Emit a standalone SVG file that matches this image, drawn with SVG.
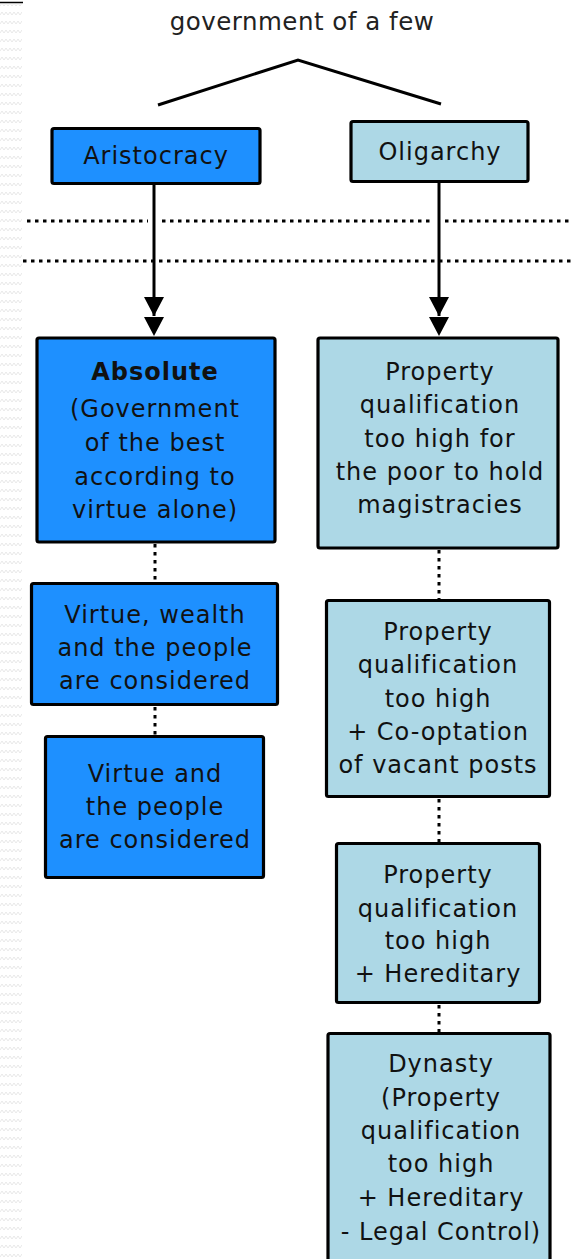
<svg xmlns="http://www.w3.org/2000/svg" width="572" height="1259" viewBox="0 0 572 1259">
<style>
text{font-family:"DejaVu Sans","Liberation Sans",sans-serif;font-size:24px;fill:#111;text-anchor:middle;letter-spacing:1px}
.title{font-size:24.5px;fill:#222;letter-spacing:0.5px}
.box{stroke:#000;stroke-width:3.2}
.ar{fill:#1e90ff}
.ol{fill:#add8e6}
.line{stroke:#000;stroke-width:3;fill:none}
.dot{stroke:#000;stroke-width:3;stroke-dasharray:3.5 4.5;fill:none}
</style>
<defs>
<pattern id="zz" width="8" height="9" patternUnits="userSpaceOnUse">
<polyline points="0,6 2,3 4,6 6,3 8,6" fill="none" stroke="#e8e8e8" stroke-width="1"/>
</pattern>
</defs>
<rect x="0" y="0" width="572" height="1259" fill="#fff"/>
<rect x="0" y="4" width="22" height="1255" fill="url(#zz)"/>
<line x1="0" y1="2.5" x2="23" y2="2.5" stroke="#000" stroke-width="1.5"/>
<g id="title"><text class="title" x="302" y="30">government of a few</text></g>
<g id="connectors">
<polyline class="line" stroke-width="2.5" points="158,105 298,60 441,104"/>
<line class="dot" x1="27" y1="221" x2="148" y2="221"/>
<line class="dot" x1="162" y1="221" x2="434" y2="221"/>
<line class="dot" x1="445" y1="221" x2="572" y2="221"/>
<line class="dot" x1="23" y1="261" x2="572" y2="261"/>
<line class="line" x1="154" y1="185" x2="154" y2="316"/>
<path d="M144,297 L164,297 L154,316 Z M144,317 L164,317 L154,336 Z" fill="#000"/>
<line class="line" x1="439" y1="182" x2="439" y2="316"/>
<path d="M429,297 L449,297 L439,316 Z M429,317 L449,317 L439,336 Z" fill="#000"/>
<line class="dot" x1="155" y1="544" x2="155" y2="582"/>
<line class="dot" x1="155" y1="707" x2="155" y2="735"/>
<line class="dot" x1="439" y1="550" x2="439" y2="599"/>
<line class="dot" x1="439" y1="799" x2="439" y2="842"/>
<line class="dot" x1="439" y1="1005" x2="439" y2="1032"/>
</g>
<g id="aristocracy">
<rect class="box ar" x="52" y="128.5" width="208" height="55" rx="2"/>
<text x="156" y="164">Aristocracy</text>
</g>
<g id="oligarchy">
<rect class="box ol" x="351" y="121.5" width="177" height="60" rx="2"/>
<text x="440" y="160">Oligarchy</text>
</g>
<g id="absolute">
<rect class="box ar" x="37" y="338" width="238" height="204" rx="2"/>
<text x="155" y="380" font-weight="bold">Absolute</text>
<text x="155" y="417">(Government</text>
<text x="155" y="451">of the best</text>
<text x="155" y="485">according to</text>
<text x="155" y="518">virtue alone)</text>
</g>
<g id="virtue-wealth">
<rect class="box ar" x="31.5" y="583.5" width="246" height="121" rx="2"/>
<text x="155" y="623">Virtue, wealth</text>
<text x="155" y="656">and the people</text>
<text x="155" y="689">are considered</text>
</g>
<g id="virtue-people">
<rect class="box ar" x="45.5" y="736.5" width="218" height="141" rx="2"/>
<text x="155" y="782">Virtue and</text>
<text x="155" y="815">the people</text>
<text x="155" y="848">are considered</text>
</g>
<g id="property1">
<rect class="box ol" x="318" y="338" width="240" height="210" rx="2"/>
<text x="440" y="380">Property</text>
<text x="440" y="413">qualification</text>
<text x="440" y="447">too high for</text>
<text x="440" y="480">the poor to hold</text>
<text x="440" y="513">magistracies</text>
</g>
<g id="property2">
<rect class="box ol" x="326.5" y="600.5" width="223" height="196" rx="2"/>
<text x="438" y="640">Property</text>
<text x="438" y="673">qualification</text>
<text x="438" y="707">too high</text>
<text x="438" y="740">+ Co-optation</text>
<text x="438" y="773">of vacant posts</text>
</g>
<g id="property3">
<rect class="box ol" x="336.5" y="843.5" width="203" height="159" rx="2"/>
<text x="438" y="883">Property</text>
<text x="438" y="917">qualification</text>
<text x="438" y="949">too high</text>
<text x="438" y="982">+ Hereditary</text>
</g>
<g id="dynasty">
<rect class="box ol" x="328" y="1033.5" width="222" height="240" rx="2"/>
<text x="441" y="1072">Dynasty</text>
<text x="441" y="1106">(Property</text>
<text x="441" y="1139">qualification</text>
<text x="441" y="1172">too high</text>
<text x="441" y="1206">+ Hereditary</text>
<text x="441" y="1240">- Legal Control)</text>
</g>
</svg>
